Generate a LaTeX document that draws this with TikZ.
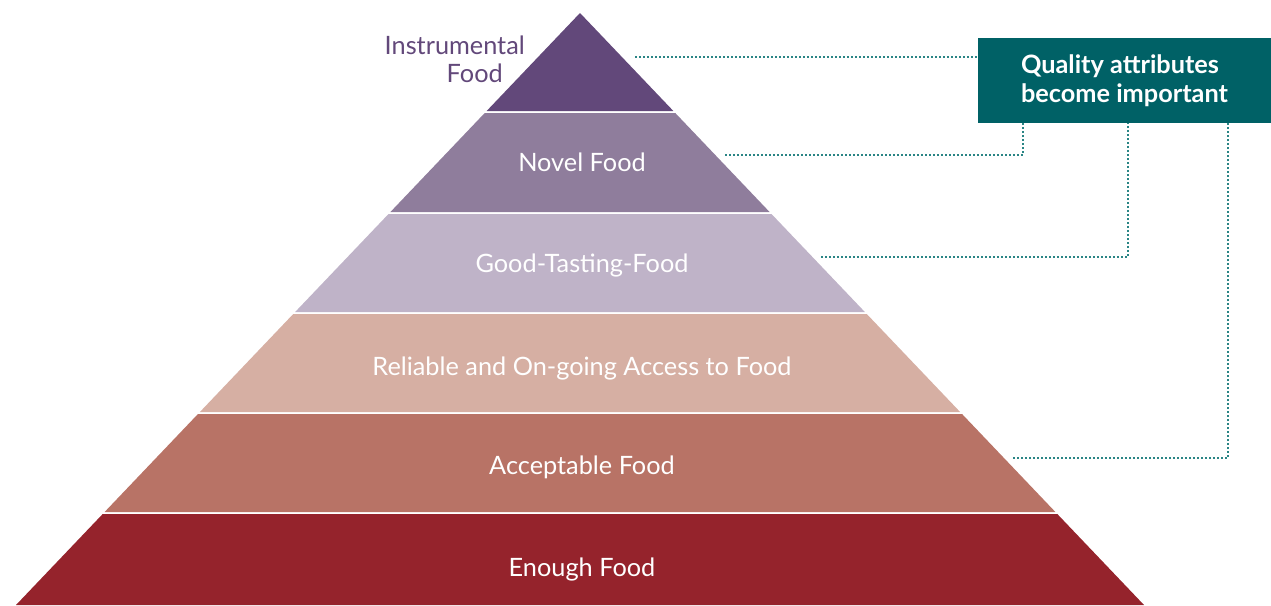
\documentclass[tikz,border=0pt]{standalone}
\usepackage{fontspec}
\setmainfont{Lato}
\definecolor{cTop}{HTML}{62487A}
\definecolor{cNovel}{HTML}{8F7D9C}
\definecolor{cGood}{HTML}{BFB3C8}
\definecolor{cRel}{HTML}{D6AFA3}
\definecolor{cAcc}{HTML}{B87366}
\definecolor{cEnough}{HTML}{95232C}
\definecolor{cBox}{HTML}{006166}
\definecolor{cDot}{HTML}{2A8585}
\begin{document}
\begin{tikzpicture}[x=1pt,y=-1pt,
  lbl/.style={text=white,font=\fontsize{25.3}{28}\selectfont,inner sep=0pt},
  conn/.style={draw=cDot,line width=1.2pt,dash pattern=on 2pt off 2pt},
  qbox/.style={fill=cBox,text=white,font=\bfseries\fontsize{25.3}{29}\selectfont,align=left,minimum width=293pt,minimum height=85pt,inner sep=0pt}]
\useasboundingbox (0,0) rectangle (1271,605);
\def\k{0.9527}
% bands
\foreach \t/\b/\c in {13/111/cTop,113/212/cNovel,214/312/cGood,314/412/cRel,414/512/cAcc,514/605/cEnough}{
  \fill[\c] ({580-\k*(\t-13)},\t) -- ({580+\k*(\t-13)},\t) -- ({580+\k*(\b-13)},\b) -- ({580-\k*(\b-13)},\b) -- cycle;
}
\node[lbl] (novel) at (582,162) {Novel Food};
\node[lbl] (good) at (582,265) {Good-Tasting-Food};
\node[lbl] (rel) at (582,368) {Reliable and On-going Access to Food};
\node[lbl] (acc) at (582,467) {Acceptable Food};
\node[lbl] (enough) at (582,569) {Enough Food};
\node[lbl,text=cTop,align=right,anchor=east,font=\fontsize{25.3}{28}\selectfont] (instr) at (525,59) {Instrumental\\Food\hspace*{22pt}};
\node[qbox] (box) at (1124.5,80.5) {Quality attributes\\become important};
\coordinate (s1) at (635,57);
\coordinate (s2) at (725,155);
\coordinate (s3) at (821,257);
\coordinate (s4) at (1013,458);
\draw[conn] (s1) -- (box.west |- s1);
\draw[conn] (s2) -- (1023,155) -- (1023,123);
\draw[conn] (s3) -- (1128,257) -- (1128,123);
\draw[conn] (s4) -- (1228,458) -- (1228,123);
\end{tikzpicture}
\end{document}
